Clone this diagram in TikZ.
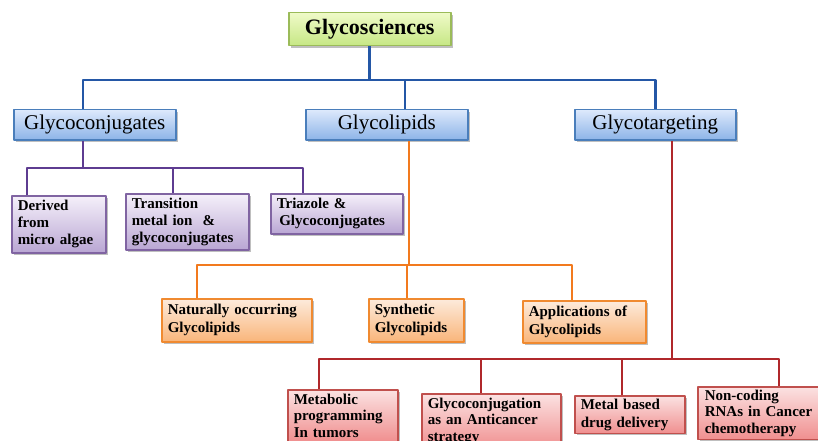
\documentclass[tikz,border=0pt]{standalone}
\usepackage{fontspec}
\setmainfont{Liberation Serif}
\usetikzlibrary{shadows}
\definecolor{glineb}{HTML}{2457A6}
\definecolor{glinep}{HTML}{5E3C91}
\definecolor{glineo}{HTML}{F27A1E}
\definecolor{gliner}{HTML}{B0282B}
\definecolor{gdrawg}{HTML}{9BBB59}\definecolor{gtopg}{HTML}{EFFAC8}\definecolor{gbotg}{HTML}{C6E784}
\definecolor{gdrawb}{HTML}{4A7EBB}\definecolor{gtopb}{HTML}{DDE9FC}\definecolor{gbotb}{HTML}{8DB4E8}
\definecolor{gdrawp}{HTML}{8064A2}\definecolor{gtopp}{HTML}{F5F0FA}\definecolor{gbotp}{HTML}{B9A6D3}
\definecolor{gdrawo}{HTML}{F08A30}\definecolor{gtopo}{HTML}{FDEBDC}\definecolor{gboto}{HTML}{F9B57A}
\definecolor{gdrawr}{HTML}{C0504D}\definecolor{gtopr}{HTML}{FBE2E2}\definecolor{gbotr}{HTML}{F08F8F}
\begin{document}
\begin{tikzpicture}[x=1pt,y=-1pt,line join=round,
    box/.style={draw,line width=1.5pt,anchor=north west,inner xsep=6pt,inner ysep=0pt,align=left,
      drop shadow={opacity=.5,shadow xshift=2pt,shadow yshift=-2pt}},
    topbox/.style={box,draw=gdrawg,top color=gtopg,bottom color=gbotg,align=center,
      font=\fontsize{22}{26}\selectfont\bfseries},
    midbox/.style={box,draw=gdrawb,top color=gtopb,bottom color=gbotb,align=center,
      font=\fontsize{21}{25}\selectfont},
    pbox/.style={box,draw=gdrawp,top color=gtopp,bottom color=gbotp,
      font=\fontsize{15}{17}\selectfont\bfseries},
    obox/.style={box,draw=gdrawo,top color=gtopo,bottom color=gboto,
      font=\fontsize{15}{18}\selectfont\bfseries},
    rbox/.style={box,draw=gdrawr,top color=gtopr,bottom color=gbotr,inner ysep=4pt,
      font=\fontsize{15}{16.5}\selectfont\bfseries},
    bline/.style={glineb,line width=2.6pt},
    pline/.style={glinep,line width=2.6pt},
    oline/.style={glineo,line width=2.6pt},
    rline/.style={gliner,line width=2.6pt}]
    \clip (0,0) rectangle (818,441);
    % top and second row
    \node[topbox,text width=150pt,minimum height=33pt] (gsci) at (288,12) {Glycosciences};
    \node[midbox,text width=150pt,minimum height=30pt] (gconj) at (13,109) {Glycoconjugates};
    \node[midbox,text width=150pt,minimum height=30pt] (glip) at (305,109) {Glycolipids};
    \node[midbox,text width=149pt,minimum height=30pt] (gtarg) at (574,109) {Glycotargeting};
    % glycoconjugates
    \node[pbox,text width=82pt,minimum height=57pt] (derv) at (11,195) {Derived\\ from\\ micro algae};
    \node[pbox,text width=111pt,minimum height=56pt] (trans) at (125,193) {Transition\\ metal ion \ \&\\ glycoconjugates};
    \node[pbox,text width=120pt,minimum height=40pt] (tria) at (270,193) {Triazole \&\\ \,Glycoconjugates};
    % glycolipids
    \node[obox,text width=138pt,minimum height=43pt] (natu) at (161,298) {Naturally occurring\\ Glycolipids};
    \node[obox,text width=83pt,minimum height=43pt] (synt) at (368,298) {Synthetic\\ Glycolipids};
    \node[obox,text width=111pt,minimum height=42pt] (appl) at (522,300) {Applications of\\ Glycolipids};
    % glycotargeting
    \node[rbox,text width=98pt] (meta) at (287,389) {Metabolic\\ programming\\ In tumors};
    \node[rbox,text width=127pt] (gcon) at (421,393) {Glycoconjugation\\ as an Anticancer\\ strategy};
    \node[rbox,text width=98pt,inner ysep=3pt,font=\fontsize{15}{18}\selectfont\bfseries] (metl) at (574,395) {Metal based\\ drug delivery};
    \node[rbox,text width=118pt,inner ysep=3pt,inner xsep=7pt] (ncod) at (697,386) {Non-coding\\ RNAs in Cancer\\ chemotherapy};
    % connectors
    \coordinate (bbar) at (gsci.south |- 0,80);
    \coordinate (pbar) at (83,168);
    \coordinate (obar) at (409,265);
    \coordinate (rbar) at (672,359);
    \draw[bline] (gsci.south) -- (bbar);
    \draw[bline] (gconj.north -| pbar) |- (bbar) -| (gtarg.north);
    \draw[bline] (glip.north -| 405,0) -- (bbar -| 405,0);
    \draw[pline] (gconj.south -| pbar) -- (pbar);
    \draw[pline] (derv.north -| 27,0) |- (pbar) -| (tria.north -| 303,0);
    \draw[pline] (trans.north -| 173,0) -- (pbar -| 173,0);
    \draw[oline] (glip.south -| obar) -- (obar);
    \draw[oline] (natu.north -| 197,0) |- (obar) -| (appl.north -| 572,0);
    \draw[oline] (synt.north -| 407,0) -- (obar -| 407,0);
    \draw[rline] (gtarg.south -| rbar) -- (rbar);
    \draw[rline] (meta.north -| 319,0) |- (rbar) -| (ncod.north -| 779,0);
    \draw[rline] (gcon.north -| 481,0) -- (rbar -| 481,0);
    \draw[rline] (metl.north -| 622,0) -- (rbar -| 622,0);
\end{tikzpicture}
\end{document}
